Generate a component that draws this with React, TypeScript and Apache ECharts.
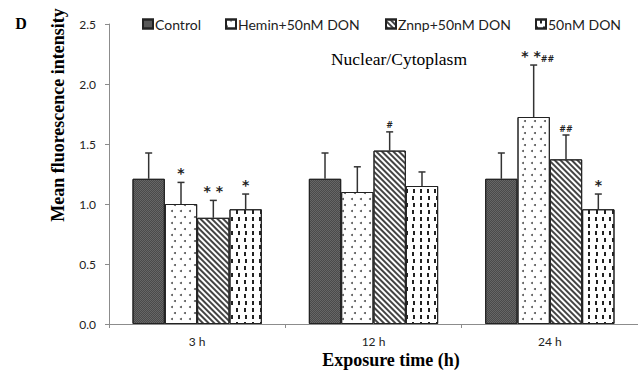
import React, { useEffect, useRef } from "react";
import * as echarts from "echarts";

const categories = ["3 h", "12 h", "24 h"];
const seriesNames = ["Control", "Hemin+50nM DON", "Znnp+50nM DON", "50nM DON"];
const controlValues = [1.21, 1.21, 1.21];
const heminValues = [1.0, 1.1, 1.725];
const znnpValues = [0.885, 1.445, 1.372];
const donValues = [0.956, 1.15, 0.956];
const controlErr = [0.215, 0.215, 0.215];
const heminErr = [0.18, 0.21, 0.433];
const znnpErr = [0.145, 0.156, 0.203];
const donErr = [0.127, 0.117, 0.127];
const controlMarks = ["", "", ""];
const heminMarks = ["*", "", "**##"];
const znnpMarks = ["**", "#", "##"];
const donMarks = ["*", "", "*"];
const yTicks = { min: 0, max: 2.5, interval: 0.5 };

const GAP = 0.2667;

export default function App() {
  const ref = useRef<HTMLDivElement>(null);
  useEffect(() => {
    if (!ref.current) return;
    const chart = echarts.init(ref.current, undefined, { renderer: "svg" });
    const values = [controlValues, heminValues, znnpValues, donValues];
    const errs = [controlErr, heminErr, znnpErr, donErr];
    const marks = [controlMarks, heminMarks, znnpMarks, donMarks];
    const rows: number[][] = [];
    const rowMarks: string[] = [];
    values.forEach((vals, si) => {
      vals.forEach((v, ci) => {
        rows.push([ci, si, v, errs[si][ci]]);
        rowMarks.push(marks[si][ci]);
      });
    });

    const styles: any[] = [
      {
        color: "#666666",
        decal: {
          symbol: "rect",
          symbolSize: 1,
          color: "rgba(40,40,40,0.45)",
          dashArrayX: [[1, 1], [0, 1, 1, 0]],
          dashArrayY: [1, 0],
        },
      },
      {
        color: "#ffffff",
        decal: {
          symbol: "circle",
          symbolSize: 1,
          color: "#555",
          dashArrayX: [[1.6, 6.4], [0, 3.2, 1.6, 3.2]],
          dashArrayY: [1.6, 3.4],
        },
      },
      {
        color: "#ffffff",
        decal: {
          symbol: "rect",
          symbolSize: 1,
          color: "#444",
          dashArrayX: [1, 0],
          dashArrayY: [1.3, 1.9],
          rotation: Math.PI / 4,
        },
      },
      {
        color: "#ffffff",
        decal: {
          symbol: "rect",
          symbolSize: 1,
          color: "#222",
          dashArrayX: [[1.5, 5], [0, 3.2, 1.5, 1.8]],
          dashArrayY: [4, 3],
        },
      },
    ];

    const barSeries = values.map((vals, si) => ({
      name: seriesNames[si],
      type: "bar",
      data: vals,
      barCategoryGap: (GAP * 100).toFixed(2) + "%",
      barGap: "0%",
      itemStyle: {
        ...styles[si],
        borderColor: "#222",
        borderWidth: 1,
      },
    }));

    const legendPos = [137, 220, 380, 530];
    const legends = seriesNames.map((n, i) => ({
      data: [n],
      left: legendPos[i],
      top: 12,
      itemWidth: 10,
      itemHeight: 9,
      icon: "rect",
      textStyle: { fontSize: 14, fontFamily: "Lato", color: "#222", padding: [0, 0, 0, -3] },
      selectedMode: false,
    }));

    chart.setOption({
      animation: false,
      backgroundColor: "#ffffff",
      legend: legends,
      grid: { left: 109, top: 24, width: 540, height: 300 },
      xAxis: {
        type: "category",
        data: categories,
        axisLine: { lineStyle: { color: "#8c8c8c", width: 1 } },
        axisTick: { show: true, length: 4, interval: 0, lineStyle: { color: "#8c8c8c" } },
        axisLabel: { margin: 11, fontSize: 12, fontFamily: "Lato", color: "#222" },
      },
      yAxis: {
        type: "value",
        min: yTicks.min,
        max: yTicks.max,
        interval: yTicks.interval,
        splitLine: { show: false },
        axisLine: { show: true, lineStyle: { color: "#8c8c8c", width: 1 } },
        axisTick: { show: true, length: 4, lineStyle: { color: "#8c8c8c" } },
        axisLabel: {
          margin: 13,
          fontSize: 12,
          fontFamily: "Lato",
          color: "#222",
          formatter: (v: number) => v.toFixed(1),
        },
      },
      series: [
        ...barSeries,
        {
          name: "err",
          type: "custom",
          clip: false,
          z: 5,
          data: rows,
          encode: { x: 0, y: 2 },
          renderItem: (params: any, api: any) => {
            const cat = api.value(0);
            const si = api.value(1);
            const v = api.value(2);
            const e = api.value(3);
            const band = api.size([1, 0])[0];
            const barW = (band * (1 - GAP)) / 4;
            const base = api.coord([cat, v]);
            const x = base[0] + (si - 1.5) * barW;
            const topY = api.coord([cat, v + e])[1];
            const mark = rowMarks[params.dataIndex];
            const children: any[] = [
              {
                type: "line",
                shape: { x1: x, y1: base[1], x2: x, y2: topY },
                style: { stroke: "#333", lineWidth: 1.5 },
              },
              {
                type: "line",
                shape: { x1: x - 3.5, y1: topY, x2: x + 3.5, y2: topY },
                style: { stroke: "#333", lineWidth: 1.5 },
              },
            ];
            if (mark) {
              const stars = mark.replace(/#/g, "");
              const hashes = mark.replace(/\*/g, "");
              let txt = "";
              if (stars) txt += "{s|" + stars.split("").join(" ") + "}";
              if (hashes) txt += "{h|" + hashes + "}";
              children.push({
                type: "text",
                x: x + (stars && hashes ? 4 : 0),
                y: topY - 2,
                style: {
                  text: txt,
                  align: "center",
                  verticalAlign: "bottom",
                  rich: {
                    s: { fontSize: 14, fontFamily: "DejaVu Sans", fontWeight: "bold", fill: "#222", verticalAlign: "bottom", lineHeight: 14 },
                    h: { fontSize: 8, fontFamily: "DejaVu Sans", fontWeight: "bold", fill: "#222", verticalAlign: "bottom", lineHeight: 10 },
                  },
                },
              });
            }
            return { type: "group", children };
          },
        },
      ],
      graphic: [
        {
          type: "text",
          x: 21,
          y: 23,
          style: { text: "D", font: "bold 16px 'Liberation Serif'", fill: "#000", align: "center", verticalAlign: "middle" },
        },
        {
          type: "text",
          x: 399,
          y: 59,
          style: { text: "Nuclear/Cytoplasm", font: "17.5px 'Liberation Serif'", fill: "#000", align: "center", verticalAlign: "middle" },
        },
        {
          type: "text",
          x: 58,
          y: 115,
          rotation: Math.PI / 2,
          style: { text: "Mean fluorescence intensity", font: "bold 18px 'Liberation Serif'", fill: "#000", align: "center", verticalAlign: "middle" },
        },
        {
          type: "text",
          x: 391,
          y: 360,
          style: { text: "Exposure time (h)", font: "bold 18px 'Liberation Serif'", fill: "#000", align: "center", verticalAlign: "middle" },
        },
      ],
    });
    return () => chart.dispose();
  }, []);
  return (
    <div
      ref={ref}
      style={{ position: "fixed", left: 0, top: 0, width: 638, height: 372, overflow: "hidden" }}
    />
  );
}
